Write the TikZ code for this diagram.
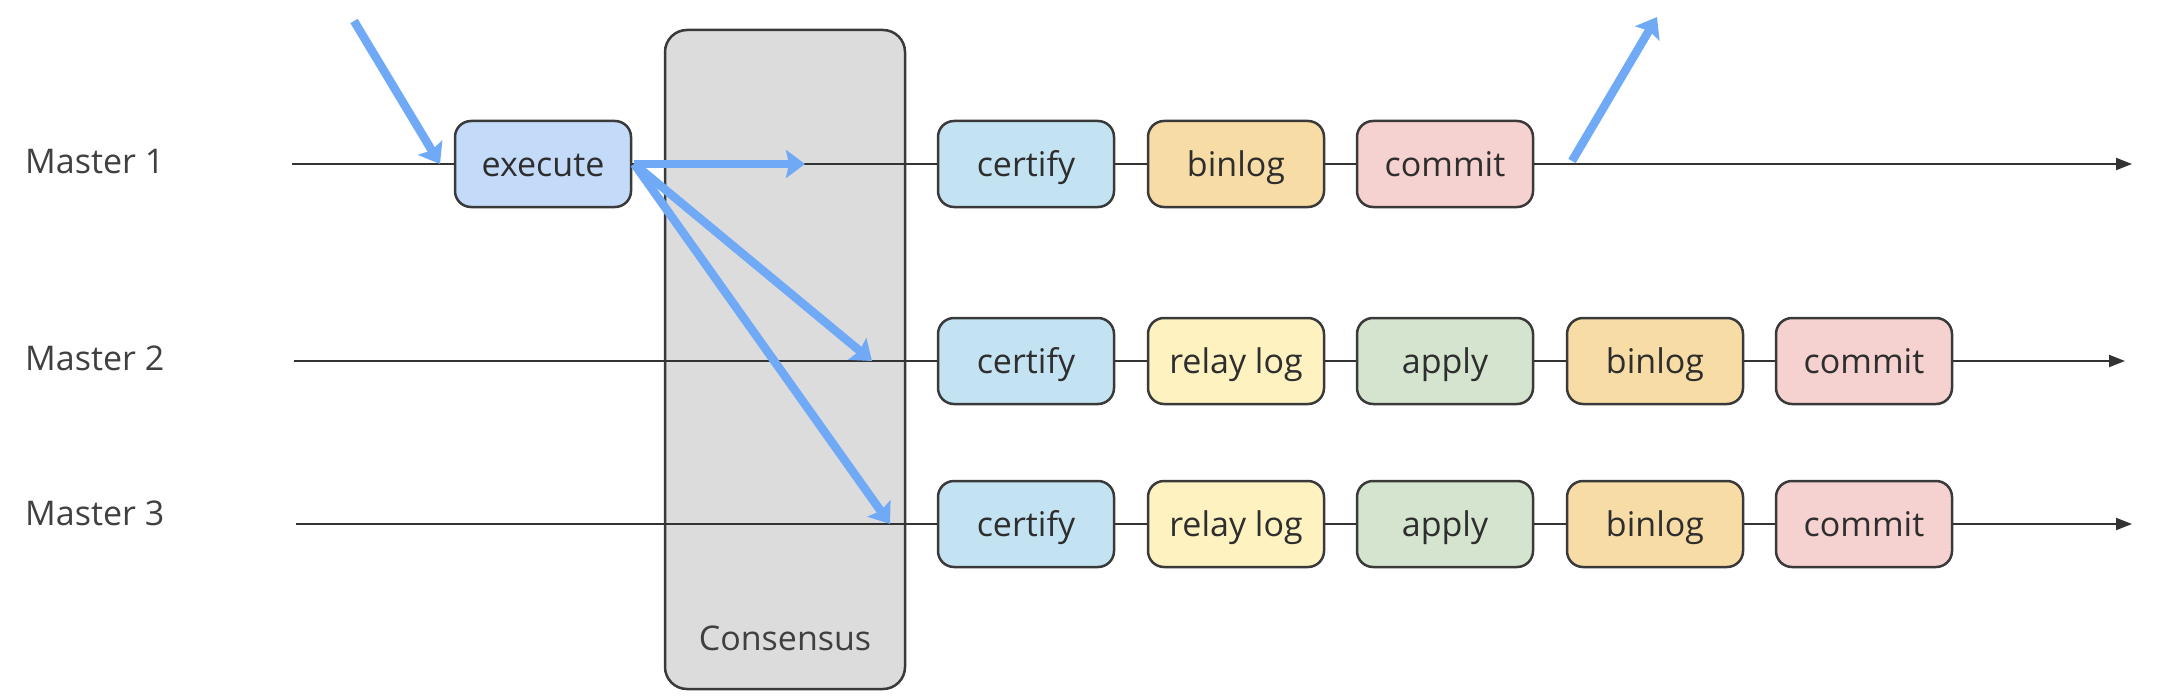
\documentclass[tikz,border=0pt]{standalone}
\usepackage{fontspec}
\setmainfont{Open Sans}
\usetikzlibrary{arrows.meta}
\definecolor{bordercol}{HTML}{3A3A3A}
\definecolor{textcol}{HTML}{2E2E2E}
\definecolor{labelcol}{HTML}{404040}
\definecolor{execcol}{HTML}{C3DBF8}
\definecolor{certcol}{HTML}{C3E3F3}
\definecolor{bincol}{HTML}{F8DCA6}
\definecolor{comcol}{HTML}{F5D2CF}
\definecolor{relaycol}{HTML}{FDF2C0}
\definecolor{applycol}{HTML}{D4E4CE}
\definecolor{conscol}{HTML}{DCDCDC}
\definecolor{bluearrow}{HTML}{70AAF6}
\definecolor{linecol}{HTML}{333333}
\tikzset{
  stagebox/.style={draw=bordercol, line width=2.5pt, rounded corners=16pt,
    minimum width=176pt, minimum height=86pt, inner sep=0pt,
    text height=30pt, text depth=6pt,
    font=\fontsize{34}{40}\selectfont, text=textcol},
  consbox/.style={draw=bordercol, line width=2.5pt, rounded corners=22pt,
    fill=conscol, minimum width=240pt, minimum height=659pt, inner sep=0pt},
  mlabel/.style={anchor=west, inner sep=0pt, font=\fontsize{34}{40}\selectfont, text=labelcol},
  timeline/.style={draw=linecol, line width=2pt},
  timeend/.style={timeline, -{Triangle[length=16pt,width=12pt]}},
  flow/.style={draw=bluearrow, line width=8.5pt, -{Stealth[length=19pt,width=28pt,inset=3pt]}}
}
\begin{document}
\begin{tikzpicture}[x=1pt,y=-1pt]
\useasboundingbox (0,0) rectangle (2162,698);
\fill[white] (0,0) rectangle (2162,698);

% consensus box
\node[consbox] (cons) at (785,359.5) {};
\node[font=\fontsize{34}{40}\selectfont, text=labelcol, inner sep=0pt] (constext) at ([yshift=52pt]cons.south) {Consensus};

% labels
\node[mlabel] (lab1) at (25,162) {Master 1};
\node[mlabel] (lab2) at (25,358) {Master 2};
\node[mlabel] (lab3) at (25,513) {Master 3};

% line ends
\coordinate (s1) at (292,164);
\coordinate (e1) at (2132,164);
\coordinate (s2) at (294,361);
\coordinate (e2) at (2125,361);
\coordinate (s3) at (296,524);
\coordinate (e3) at (2132,524);

% row 1
\node[stagebox, fill=execcol] (exec) at (543,164) {execute};
\node[stagebox, fill=certcol] (cert1) at (1026,164) {certify};
\node[stagebox, fill=bincol] (bin1) at (1236,164) {binlog};
\node[stagebox, fill=comcol] (com1) at (1445,164) {commit};

% row 2
\node[stagebox, fill=certcol] (cert2) at (1026,361) {certify};
\node[stagebox, fill=relaycol] (relay2) at (1236,361) {relay log};
\node[stagebox, fill=applycol] (apply2) at (1445,361) {apply};
\node[stagebox, fill=bincol] (bin2) at (1655,361) {binlog};
\node[stagebox, fill=comcol] (com2) at (1864,361) {commit};

% row 3
\node[stagebox, fill=certcol] (cert3) at (1026,524) {certify};
\node[stagebox, fill=relaycol] (relay3) at (1236,524) {relay log};
\node[stagebox, fill=applycol] (apply3) at (1445,524) {apply};
\node[stagebox, fill=bincol] (bin3) at (1655,524) {binlog};
\node[stagebox, fill=comcol] (com3) at (1864,524) {commit};

% timelines
\draw[timeline] (s1) -- (exec);
\draw[timeline] (exec) -- (cert1);
\draw[timeline] (cert1) -- (bin1);
\draw[timeline] (bin1) -- (com1);
\draw[timeend] (com1) -- (e1);

\draw[timeline] (s2) -- (cert2);
\draw[timeline] (cert2) -- (relay2);
\draw[timeline] (relay2) -- (apply2);
\draw[timeline] (apply2) -- (bin2);
\draw[timeline] (bin2) -- (com2);
\draw[timeend] (com2) -- (e2);

\draw[timeline] (s3) -- (cert3);
\draw[timeline] (cert3) -- (relay3);
\draw[timeline] (relay3) -- (apply3);
\draw[timeline] (apply3) -- (bin3);
\draw[timeline] (bin3) -- (com3);
\draw[timeend] (com3) -- (e3);

% blue flow arrows
\coordinate (inS) at (354,21);
\coordinate (inE) at (440,164);
\coordinate (outS) at (1572,161);
\coordinate (outE) at (1657,17);
\coordinate (t1) at (805,164);
\coordinate (t2) at (872,361);
\coordinate (t3) at (890,524);
\draw[flow] (inS) -- (inE);
\draw[flow] (outS) -- (outE);
\draw[flow] ([xshift=2pt]exec.east) -- (t1);
\draw[flow] ([xshift=2pt]exec.east) -- (t2);
\draw[flow] ([xshift=2pt]exec.east) -- (t3);
\end{tikzpicture}
\end{document}
